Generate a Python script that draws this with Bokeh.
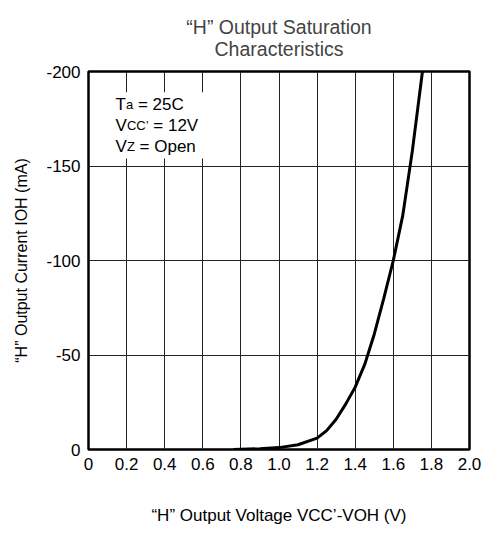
from bokeh.plotting import figure
from bokeh.models import Range1d, FixedTicker, Title, Label, BoxAnnotation
from bokeh.embed import file_html
from bokeh.resources import INLINE

# ---- data ----
v_sat = [0.76, 0.9, 1.0, 1.1, 1.2, 1.25, 1.3, 1.35, 1.4, 1.45, 1.5, 1.55, 1.6, 1.65, 1.7, 1.753]
i_oh = [0, -0.4, -1, -2.5, -6, -10, -16, -24, -33, -45, -61, -80, -100, -124, -158, -200]

x_ticks = [0, 0.2, 0.4, 0.6, 0.8, 1.0, 1.2, 1.4, 1.6, 1.8, 2.0]
x_tick_labels = ["0", "0.2", "0.4", "0.6", "0.8", "1.0", "1.2", "1.4", "1.6", "1.8", "2.0"]
y_ticks = [0, -50, -100, -150, -200]
y_tick_labels = ["0", "-50", "-100", "-150", "-200"]

title_lines = ["\u201cH\u201d Output Saturation", "Characteristics"]

FONT = "Liberation Sans"

p = figure(width=485, height=533, output_backend="svg", toolbar_location=None,
           x_range=Range1d(0, 2.0), y_range=Range1d(0, -200),
           min_border_left=88, min_border_right=16, min_border_top=71, min_border_bottom=84)

p.title = Title(text="\n".join(title_lines), align="center", text_align="center",
                text_font=FONT, text_font_size="19.5px", text_font_style="normal",
                text_line_height=1.0, standoff=24)

p.outline_line_color = "black"
p.outline_line_width = 2.5
p.background_fill_color = "white"
p.border_fill_color = "white"

for ax in (p.xaxis[0], p.yaxis[0]):
    ax.axis_line_color = None
    ax.major_tick_line_color = None
    ax.minor_tick_line_color = None
    ax.major_tick_out = 0
    ax.major_tick_in = 0
    ax.minor_tick_out = 0
    ax.minor_tick_in = 0
    ax.major_label_text_font = FONT
    ax.major_label_text_font_size = "17px"
    ax.major_label_text_color = "black"
    ax.axis_label_text_font = FONT
    ax.axis_label_text_font_style = "normal"
    ax.axis_label_text_color = "black"

p.xaxis.ticker = FixedTicker(ticks=x_ticks)
p.xaxis.major_label_overrides = dict(zip(x_ticks, x_tick_labels))
p.xaxis.major_label_standoff = 8
p.xaxis.axis_label = "\u201cH\u201d Output Voltage VCC\u2019-VOH (V)"
p.xaxis.axis_label_text_font_size = "17px"
p.xaxis.axis_label_standoff = 33

p.yaxis.ticker = FixedTicker(ticks=y_ticks)
p.yaxis.major_label_overrides = dict(zip(y_ticks, y_tick_labels))
p.yaxis.major_label_standoff = 8
p.yaxis.axis_label = "\u201cH\u201d Output Current IOH (mA)"
p.yaxis.axis_label_text_font_size = "16px"
p.yaxis.axis_label_standoff = 13

p.xgrid.ticker = FixedTicker(ticks=x_ticks[1:-1])
p.ygrid.ticker = FixedTicker(ticks=y_ticks[1:-1])
for g in (p.xgrid[0], p.ygrid[0]):
    g.grid_line_color = "#222222"
    g.grid_line_width = 1

# white box behind the condition text
p.add_layout(BoxAnnotation(left=0.12, right=0.68, top=-189, bottom=-154,
                           fill_color="white", fill_alpha=1.0, line_color=None, level="underlay"))

p.line(v_sat, i_oh, line_color="black", line_width=3)

# condition text with small subscripts
BIG, SMALL = 17, 13
W = {"T": .611, "a": .556, "V": .667, "C": .722, "\u2019": .222, "Z": .611, " ": .278,
     "=": .584, "O": .778, "p": .556, "e": .556, "n": .556}
rows = [(-182.6, [("T", BIG), ("a", SMALL), (" = 25C", BIG)]),
        (-171.5, [("V", BIG), ("CC\u2019", SMALL), (" = 12V", BIG)]),
        (-160.3, [("V", BIG), ("Z", SMALL), (" = Open", BIG)])]
for yy, parts in rows:
    off = 0.0
    for txt, sz in parts:
        lead = len(txt) - len(txt.lstrip(" "))
        off += lead * W[" "] * sz
        t = txt.lstrip(" ")
        p.add_layout(Label(x=0.142, y=yy, x_offset=off, text=t, text_font=FONT,
                           text_font_size=f"{sz}px", text_baseline="alphabetic",
                           text_align="left", text_color="black"))
        off += sum(W.get(c, .556) for c in t) * sz

open("out.html", "w").write(file_html(p, INLINE))
